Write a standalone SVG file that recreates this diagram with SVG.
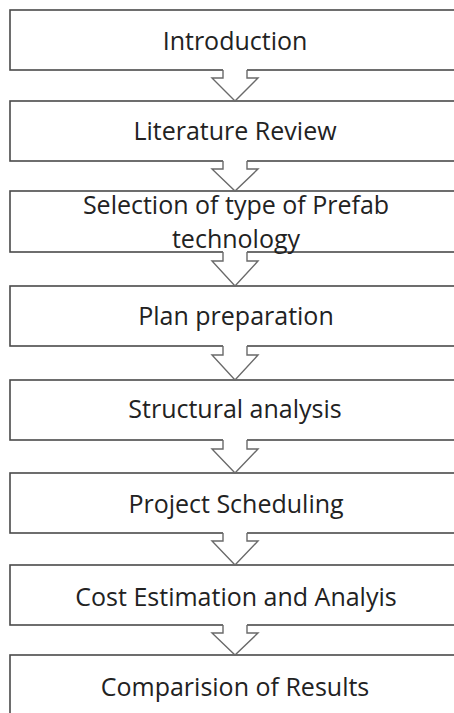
<svg xmlns="http://www.w3.org/2000/svg" width="454" height="713" viewBox="0 0 454 713">
<style>
.box{fill:#fff;stroke:#4a4a4a;stroke-width:1.6}
.lbl{font-family:"Open Sans","Liberation Sans",sans-serif;font-size:25px;fill:#222;text-anchor:middle}
.af{fill:#fff;stroke:none}
.as{fill:none;stroke:#6a6a6a;stroke-width:1.4;stroke-linejoin:miter}
</style>
<rect width="454" height="713" fill="#fff"/>
<g id="n1"><rect class="box" x="10" y="10" width="452" height="60"/><text class="lbl" x="235" y="50">Introduction</text></g>
<g id="n2"><rect class="box" x="10" y="101" width="452" height="60"/><text class="lbl" x="235" y="140">Literature Review</text></g>
<g id="n3"><rect class="box" x="10" y="191" width="452" height="61"/><text class="lbl" x="236" y="214">Selection of type of Prefab</text><text class="lbl" x="236" y="248">technology</text></g>
<g id="n4"><rect class="box" x="10" y="286" width="452" height="60"/><text class="lbl" x="236" y="325">Plan preparation</text></g>
<g id="n5"><rect class="box" x="10" y="380" width="452" height="60"/><text class="lbl" x="235" y="418">Structural analysis</text></g>
<g id="n6"><rect class="box" x="10" y="473" width="452" height="60"/><text class="lbl" x="236" y="513">Project Scheduling</text></g>
<g id="n7"><rect class="box" x="10" y="565" width="452" height="60"/><text class="lbl" x="236" y="606">Cost Estimation and Analyis</text></g>
<g id="n8"><rect class="box" x="10" y="655" width="452" height="70"/><text class="lbl" x="235" y="696">Comparision of Results</text></g>
<g id="connectors">
<g transform="translate(0,70)"><polygon class="af" points="223,-1 247,-1 247,8 258,8 235,31 212,8 223,8"/><path class="as" d="M223,0 V8 H212 L235,31 L258,8 H247 V0"/></g>
<g transform="translate(0,161)"><polygon class="af" points="223,-1 247,-1 247,8 258,8 235,30 212,8 223,8"/><path class="as" d="M223,0 V8 H212 L235,30 L258,8 H247 V0"/></g>
<g transform="translate(0,252)"><polygon class="af" points="223,-1 247,-1 247,9 258,9 235,34 212,9 223,9"/><path class="as" d="M223,0 V9 H212 L235,34 L258,9 H247 V0"/></g>
<g transform="translate(0,346)"><polygon class="af" points="223,-1 247,-1 247,9 258,9 235,34 212,9 223,9"/><path class="as" d="M223,0 V9 H212 L235,34 L258,9 H247 V0"/></g>
<g transform="translate(0,440)"><polygon class="af" points="223,-1 247,-1 247,9 258,9 235,33 212,9 223,9"/><path class="as" d="M223,0 V9 H212 L235,33 L258,9 H247 V0"/></g>
<g transform="translate(0,533)"><polygon class="af" points="223,-1 247,-1 247,8 258,8 235,32 212,8 223,8"/><path class="as" d="M223,0 V8 H212 L235,32 L258,8 H247 V0"/></g>
<g transform="translate(0,625)"><polygon class="af" points="223,-1 247,-1 247,8 258,8 235,30 212,8 223,8"/><path class="as" d="M223,0 V8 H212 L235,30 L258,8 H247 V0"/></g>
</g>
</svg>
